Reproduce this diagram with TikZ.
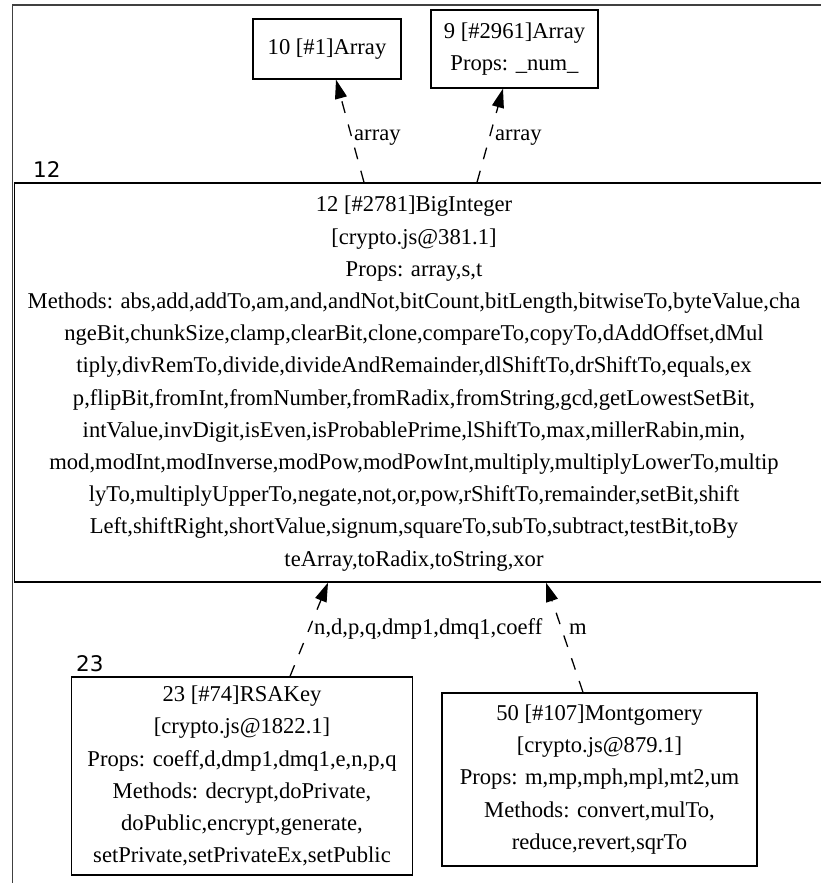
\documentclass[tikz,border=0pt]{standalone}
\usepackage{fontspec}
\setmainfont{Liberation Serif}
\newfontfamily\labfont{DejaVu Sans}
\usetikzlibrary{arrows.meta}
\newcommand\dgfont{\fontsize{22.6}{32.2}\selectfont}
\begin{document}
\begin{tikzpicture}[x=1pt,y=-1pt,
  box/.style={draw=black, line width=1.3pt, inner sep=0pt, align=center, font=\dgfont},
  txt/.style={inner sep=0pt, align=center, font=\dgfont},
  elab/.style={inner sep=0pt, anchor=base west, font=\dgfont},
  clab/.style={inner sep=0pt, anchor=base west, font=\labfont\fontsize{21.5}{24}\selectfont},
  dep/.style={line width=1.3pt, dash pattern=on 12pt off 12pt, -{Triangle[length=19pt,width=12pt]}},
  frame/.style={draw=black!75, line width=1.2pt}]
\useasboundingbox (0,0) rectangle (821,883);
\clip (0,0) rectangle (821,883);
\fill[white] (0,0) rectangle (821,883);
% cluster frame
\draw[frame] (12.5,900) -- (12.5,5) -- (840,5);
% nodes
\node[box, minimum width=148pt, minimum height=60pt] (a10) at (327,49) {10 [\#1]Array};
\node[box, minimum width=167pt, minimum height=78pt] (a9) at (514.5,49) {9 [\#2961]Array\\Props: \_num\_};
\node[draw=black, line width=1.3pt, inner sep=0pt, minimum width=825.5pt, minimum height=399pt] (big) at (427.25,382.5) {};
\node[txt] (bigtxt) at (414,383.5) {12 [\#2781]BigInteger\\
{[}crypto.js@381.1{]}\\
Props: array,s,t\\
Methods: abs,add,addTo,am,and,andNot,bitCount,bitLength,bitwiseTo,byteValue,cha\\
ngeBit,chunkSize,clamp,clearBit,clone,compareTo,copyTo,dAddOffset,dMul\\
tiply,divRemTo,divide,divideAndRemainder,dlShiftTo,drShiftTo,equals,ex\\
p,flipBit,fromInt,fromNumber,fromRadix,fromString,gcd,getLowestSetBit,\\
intValue,invDigit,isEven,isProbablePrime,lShiftTo,max,millerRabin,min,\\
mod,modInt,modInverse,modPow,modPowInt,multiply,multiplyLowerTo,multip\\
lyTo,multiplyUpperTo,negate,not,or,pow,rShiftTo,remainder,setBit,shift\\
Left,shiftRight,shortValue,signum,squareTo,subTo,subtract,testBit,toBy\\
teArray,toRadix,toString,xor};
\node[box, minimum width=341pt, minimum height=198pt] (rsa) at (242,776) {23 [\#74]RSAKey\\
{[}crypto.js@1822.1{]}\\
Props: coeff,d,dmp1,dmq1,e,n,p,q\\
Methods: decrypt,doPrivate,\\
doPublic,encrypt,generate,\\
setPrivate,setPrivateEx,setPublic};
\node[box, minimum width=315pt, minimum height=173pt] (mont) at (599.5,779.5) {50 [\#107]Montgomery\\
{[}crypto.js@879.1{]}\\
Props: m,mp,mph,mpl,mt2,um\\
Methods: convert,mulTo,\\
reduce,revert,sqrTo};
% cluster labels
\node[clab] (c12) at (33,177) {12};
\node[clab] (c23) at (76,671) {23};
% edges
\draw[dep] (big.north -| 364,0) -- (a10.south -| 336,0);
\draw[dep] (big.north -| 477,0) -- (a9.south -| 503,0);
\draw[dep] (rsa.north -| 290,0) -- (big.south -| 328,0);
\draw[dep] (mont.north -| 583,0) -- (big.south -| 546,0);
% edge labels
\node[elab] (l1) at (354,140) {array};
\node[elab] (l2) at (495,140) {array};
\node[elab] (l3) at (314,634) {n,d,p,q,dmp1,dmq1,coeff};
\node[elab] (l4) at (569,634) {m};
\end{tikzpicture}
\end{document}
